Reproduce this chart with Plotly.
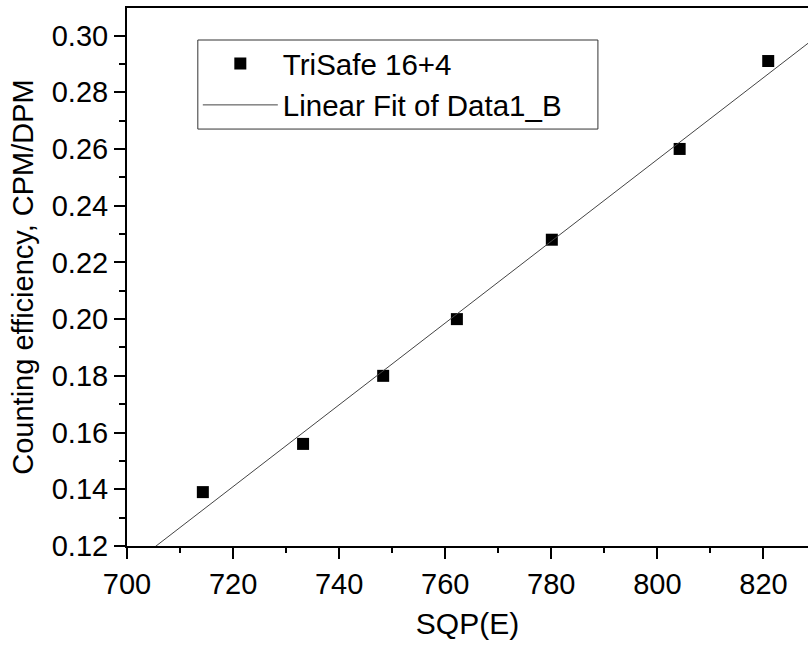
import plotly.graph_objects as go

# Data
sqp = [714.3, 733.2, 748.3, 762.2, 780.1, 804.2, 820.9]
efficiency = [0.139, 0.156, 0.180, 0.200, 0.228, 0.260, 0.291]

# Linear fit parameters (as drawn in the reference)
fit_slope = 0.001442
fit_intercept = -0.8973

x_range = [700, 828.4]
y_range = [0.12, 0.3097]

fit_x = list(x_range)
fit_y = [fit_intercept + fit_slope * v for v in fit_x]

FONT = "Liberation Sans, Arial, Helvetica, sans-serif"

fig = go.Figure()
fig.add_trace(go.Scatter(
    x=sqp, y=efficiency, mode="markers", name="TriSafe 16+4",
    marker=dict(symbol="square", size=12, color="black", line=dict(width=0)),
))
fig.add_trace(go.Scatter(
    x=fit_x, y=fit_y, mode="lines", name="Linear Fit of Data1_B",
    line=dict(color="#444444", width=1),
))

axis_common = dict(
    showgrid=False, zeroline=False, showline=True, linecolor="black", linewidth=2,
    ticks="outside", tickwidth=2, tickcolor="black", ticklen=11,
    tickfont=dict(family=FONT, size=29, color="black"),
)

# legend frame (paper coordinates)
box_x0, box_x1 = 0.104, 0.6915
box_y0, box_y1 = 0.775, 0.9405

fig.update_layout(
    width=808, height=646,
    margin=dict(l=127, r=0, t=8, b=100),
    paper_bgcolor="white", plot_bgcolor="white",
    font=dict(family=FONT, color="black"),
    showlegend=True,
    legend=dict(
        x=box_x0, y=0.9445, xanchor="left", yanchor="top",
        bgcolor="rgba(0,0,0,0)", borderwidth=0,
        font=dict(family=FONT, size=29.5, color="black"),
        itemwidth=75, traceorder="normal",
    ),
    shapes=[dict(type="rect", xref="paper", yref="paper",
                 x0=box_x0, x1=box_x1, y0=box_y0, y1=box_y1,
                 line=dict(color="#333333", width=1), fillcolor="white", layer="below")],
    xaxis=dict(
        range=x_range, dtick=20, tick0=700, mirror=True,
        minor=dict(dtick=10, ticklen=5, tickwidth=2, ticks="outside", tickcolor="black"),
        title=dict(text="SQP(E)", font=dict(family=FONT, size=30, color="black"), standoff=14),
        **axis_common,
    ),
    yaxis=dict(
        range=y_range, dtick=0.02, tick0=0.12, tickformat=".2f", mirror=False,
        minor=dict(dtick=0.01, ticklen=6, tickwidth=2, ticks="outside", tickcolor="black"),
        title=dict(text="Counting efficiency, CPM/DPM", font=dict(family=FONT, size=29, color="black"), standoff=10),
        **axis_common,
    ),
)

fig.write_html("out.html")
